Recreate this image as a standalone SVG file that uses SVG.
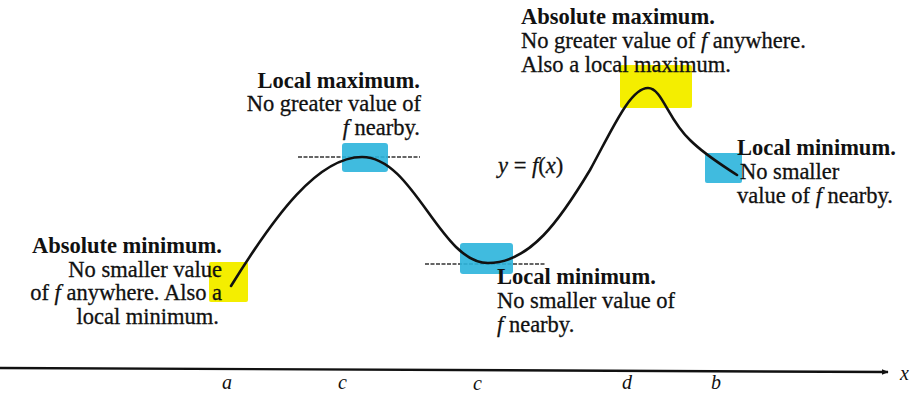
<svg xmlns="http://www.w3.org/2000/svg" width="912" height="396" viewBox="0 0 912 396">
<defs>
<style>
.t{font-family:"Liberation Serif","Times New Roman",serif;font-size:22.5px;fill:#111;stroke:#111;stroke-width:0.3;}
.b{font-weight:bold;stroke-width:0;}
.i{font-style:italic;}
.hl-y{fill:#f4ee00;}
.hl-b{fill:#2bb4dc;opacity:0.9;}
.ref{stroke:#333;stroke-width:1.6;stroke-dasharray:4 1.5;fill:none;}
.curve{stroke:#111;stroke-width:2.6;fill:none;stroke-linecap:round;stroke-linejoin:round;}
.lab{font-family:"Liberation Serif","Times New Roman",serif;font-style:italic;font-size:20px;fill:#111;}
</style>
<marker id="arr" viewBox="0 0 10 10" refX="9" refY="5" markerWidth="7" markerHeight="7" orient="auto" markerUnits="userSpaceOnUse">
<path d="M0,1 L10,5 L0,9 Z" fill="#111"/>
</marker>
</defs>
<rect width="912" height="396" fill="#ffffff"/>

<g id="connectors">
<line class="ref" x1="298" y1="157" x2="420" y2="157"/>
<line class="ref" x1="425" y1="264" x2="545" y2="264"/>
</g>

<g id="highlights">
<rect class="hl-y" x="209" y="262" width="39" height="40" rx="2"/>
<rect class="hl-b" x="342" y="143" width="46" height="29" rx="3"/>
<rect class="hl-b" x="460" y="243" width="53" height="31" rx="3"/>
<rect class="hl-y" x="620" y="65" width="72" height="43" rx="2"/>
<rect class="hl-b" x="705" y="153" width="37" height="30" rx="2"/>
</g>

<g id="curve">
<path class="curve" d="M231,286 C275,215 318,157 362,157 C414,157 440,263 488,263 C530,263 560,220 590,170 C612,130 630,88 648,88 C662,88 668,120 690,140 C705,155 722,165 737,175"/>
</g>

<g id="axis">
<line x1="0" y1="368" x2="888" y2="372" stroke="#111" stroke-width="2.4" marker-end="url(#arr)"/>
<text class="lab" x="900" y="380">x</text>
<text class="lab" x="222" y="389">a</text>
<text class="lab" x="338" y="389">c</text>
<text class="lab" x="473" y="390">c</text>
<text class="lab" x="622" y="389">d</text>
<text class="lab" x="711" y="389">b</text>
</g>

<g id="abs-min" text-anchor="end">
<text class="t b" x="222" y="253">Absolute minimum.</text>
<text class="t" x="222" y="277">No smaller value</text>
<text class="t" x="222" y="300">of <tspan class="i">f</tspan> anywhere. Also a</text>
<text class="t" x="219" y="324">local minimum.</text>
</g>

<g id="local-max" text-anchor="end">
<text class="t b" x="420" y="88">Local maximum.</text>
<text class="t" x="421" y="111">No greater value of</text>
<text class="t" x="420" y="135"><tspan class="i">f</tspan> nearby.</text>
</g>

<g id="local-min-1">
<text class="t b" x="497" y="284">Local minimum.</text>
<text class="t" x="497" y="308">No smaller value of</text>
<text class="t" x="497" y="332"><tspan class="i">f</tspan> nearby.</text>
</g>

<g id="abs-max">
<text class="t b" x="521" y="24">Absolute maximum.</text>
<text class="t" x="521" y="48">No greater value of <tspan class="i">f</tspan> anywhere.</text>
<text class="t" x="521" y="72">Also a local maximum.</text>
</g>

<g id="local-min-2">
<text class="t b" x="737" y="155">Local minimum.</text>
<text class="t" x="740" y="179">No smaller</text>
<text class="t" x="737" y="203">value of <tspan class="i">f</tspan> nearby.</text>
</g>

<g id="func-label">
<text class="t" x="498" y="173" font-size="20"><tspan class="i">y</tspan> = <tspan class="i">f</tspan>(<tspan class="i">x</tspan>)</text>
</g>
</svg>
